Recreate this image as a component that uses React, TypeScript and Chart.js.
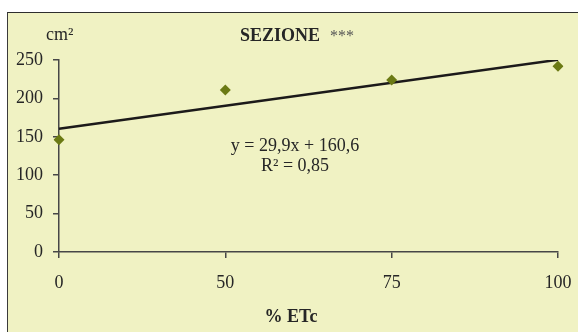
import React, { useEffect, useRef } from "react";
import { Chart, registerables } from "chart.js";

Chart.register(...registerables);

const categories = ["0", "50", "75", "100"];
const sezioneValues = [146, 211, 224, 242];
const trendValues = [160.6, null, null, 250.3];
const yTicks = [0, 50, 100, 150, 200, 250];

const FONT = "'Liberation Serif', 'Times New Roman', serif";
const BG = "#F0F2C3";
const AXIS = "#474747";
const TEXT = "#262626";

const textPlugin = {
  id: "texts",
  afterDraw(chart: any) {
    const ctx = chart.ctx;
    ctx.save();
    ctx.fillStyle = TEXT;
    ctx.textBaseline = "alphabetic";
    // y unit
    ctx.font = `18px ${FONT}`;
    ctx.textAlign = "left";
    ctx.fillText("cm²", 46, 40);
    // title
    ctx.font = `bold 18px ${FONT}`;
    ctx.fillText("SEZIONE", 240, 40.5);
    ctx.font = `16px ${FONT}`;
    ctx.fillStyle = "#555555";
    ctx.fillText("***", 330, 40.5);
    // equation
    ctx.fillStyle = TEXT;
    ctx.font = `18px ${FONT}`;
    ctx.textAlign = "center";
    ctx.fillText("y = 29,9x + 160,6", 295, 150.5);
    ctx.fillText("R² = 0,85", 295, 170.5);
    // x title
    ctx.font = `bold 18px ${FONT}`;
    ctx.fillText("% ETc", 291, 321.5);
    ctx.restore();
  },
};

export default function App() {
  const ref = useRef<HTMLCanvasElement>(null);
  useEffect(() => {
    if (!ref.current) return;
    const chart = new Chart(ref.current, {
      type: "line",
      data: {
        labels: categories,
        datasets: [
          {
            label: "SEZIONE",
            data: sezioneValues,
            showLine: false,
            pointStyle: "rectRot",
            pointRadius: 5.5,
            pointBorderWidth: 0,
            pointBackgroundColor: "#6B7A14",
            pointBorderColor: "#6B7A14",
          },
          {
            label: "trend",
            data: trendValues as any,
            spanGaps: true,
            pointRadius: 0,
            borderColor: "#1C1A1A",
            borderWidth: 2.5,
          },
        ],
      },
      options: {
        animation: false,
        responsive: false,
        maintainAspectRatio: false,
        devicePixelRatio: 1,
        layout: { padding: { top: 60, right: 20, left: 0, bottom: 0 } },
        plugins: {
          legend: { display: false },
          tooltip: { enabled: false },
          title: { display: false },
        },
        scales: {
          x: {
            type: "category",
            offset: false,
            grid: {
              display: true,
              drawOnChartArea: false,
              drawTicks: true,
              tickLength: 6,
              color: AXIS,
              lineWidth: 1.5,
            },
            border: { display: true, color: AXIS, width: 1.5 },
            ticks: {
              color: TEXT,
              font: { family: FONT, size: 18 },
              padding: 14,
              maxRotation: 0,
            },
            afterFit: (s: any) => {
              s.height = 80;
              s.paddingLeft = 0;
              s.paddingRight = 0;
            },
          },
          y: {
            min: 0,
            max: 250,
            afterBuildTicks: (s: any) => {
              s.ticks = yTicks.map((v) => ({ value: v }));
            },
            grid: {
              display: true,
              drawOnChartArea: false,
              drawTicks: true,
              tickLength: 6,
              color: AXIS,
              lineWidth: 1.5,
            },
            border: { display: true, color: AXIS, width: 1.5 },
            ticks: {
              color: TEXT,
              font: { family: FONT, size: 18 },
              padding: 10,
            },
            afterFit: (s: any) => {
              s.width = 59;
              s.paddingTop = 0;
              s.paddingBottom = 0;
            },
          },
        },
      },
      plugins: [textPlugin],
    });
    return () => chart.destroy();
  }, []);

  return (
    <div style={{ position: "fixed", left: 0, top: 0, width: 578, height: 332, background: "#ffffff" }}>
      <div
        style={{
          position: "absolute",
          left: 6.5,
          top: 12,
          right: 0,
          bottom: 0,
          background: BG,
          borderTop: "1.5px solid #2E2E2E",
          borderLeft: "1.5px solid #3A3A3A",
        }}
      />
      <canvas
        ref={ref}
        width={578}
        height={332}
        style={{ position: "absolute", left: 0, top: 0, width: 578, height: 332 }}
      />
    </div>
  );
}
